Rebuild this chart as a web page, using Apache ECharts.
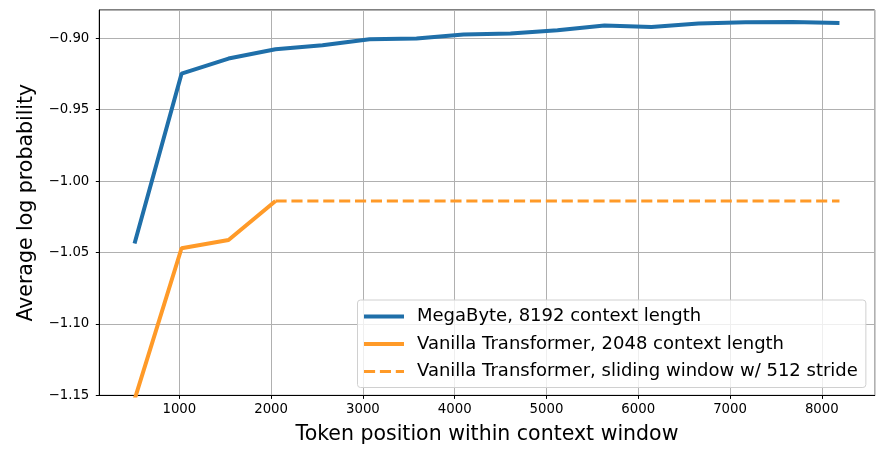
<!DOCTYPE html>
<html>
<head>
<meta charset="utf-8">
<script src="https://cdn.jsdelivr.net/npm/echarts@6/dist/echarts.min.js"></script>
<style>
  html, body { margin: 0; padding: 0; background: #fff; }
  #chart { width: 891px; height: 456px; }
</style>
</head>
<body>
<div id="chart"></div>
<script>
// token positions (x) for each series
var positions = [512, 1024, 1536, 2048, 2560, 3072, 3584, 4096, 4608, 5120, 5632, 6144, 6656, 7168, 7680, 8192];
var megabyte = [-1.0436, -0.9248, -0.9142, -0.9077, -0.9049, -0.9007, -0.9002, -0.8974, -0.8967, -0.8944, -0.8911, -0.8921, -0.8897, -0.8888, -0.8886, -0.8893];

var vanillaPositions = [512, 1024, 1536, 2048];
var vanilla = [-1.153, -1.047, -1.0412, -1.0139];

var slidingPositions = [2048, 2560, 3072, 3584, 4096, 4608, 5120, 5632, 6144, 6656, 7168, 7680, 8192];
var sliding = [-1.0139, -1.0139, -1.0139, -1.0139, -1.0139, -1.0139, -1.0139, -1.0139, -1.0139, -1.0139, -1.0139, -1.0139, -1.0139];

var seriesNames = [
    "MegaByte, 8192 context length",
    "Vanilla Transformer, 2048 context length",
    "Vanilla Transformer, sliding window w/ 512 stride"
];

var blue = "#1f6fa9";
var orange = "#ff9a28";
var font = "DejaVu Sans";

function pairs(xs, ys) {
    var out = [];
    for (var i = 0; i < xs.length; i++) {
        out.push([xs[i], ys[i]]);
    }
    return out;
}

var chart = echarts.init(document.getElementById("chart"), null, {renderer: "canvas"});

var option = {
    animation: false,
    textStyle: {fontFamily: font},
    grid: {
        left: 99.3, right: 16.3, top: 10, bottom: 60.6,
        show: true, borderColor: "#000", borderWidth: 1
    },
    xAxis: {
        type: "value",
        min: 128,
        max: 8576,
        splitNumber: 8,
        name: "Token position within context window",
        nameLocation: "middle",
        nameGap: 29,
        nameTextStyle: {fontSize: 20.5, color: "#000", fontFamily: font},
        axisLine: {show: true, lineStyle: {color: "#000", width: 1}},
        axisTick: {show: true, inside: false, length: 3.5, lineStyle: {color: "#000"}},
        axisLabel: {
            color: "#000", fontSize: 13.3, fontFamily: font, margin: 8,
            showMinLabel: false, showMaxLabel: false,
            formatter: function (v) {
                return String(v);
            }
        },
        splitLine: {show: true, lineStyle: {color: "#b0b0b0", width: 1}}
    },
    yAxis: {
        type: "value",
        min: -1.15,
        max: -0.8802,
        interval: 0.05,
        name: "Average log probability",
        nameLocation: "middle",
        nameRotate: 90,
        nameGap: 57,
        nameTextStyle: {fontSize: 20.5, color: "#000", fontFamily: font},
        axisLine: {show: true, lineStyle: {color: "#000", width: 1}},
        axisTick: {show: true, inside: false, length: 3.5, lineStyle: {color: "#000"}},
        axisLabel: {
            color: "#000", fontSize: 13.3, fontFamily: font, margin: 10,
            showMinLabel: true, showMaxLabel: false,
            formatter: function (v) {
                return v.toFixed(2).replace("-", "\u2212");
            }
        },
        splitLine: {show: true, lineStyle: {color: "#b0b0b0", width: 1}}
    },
    legend: {
        orient: "vertical",
        left: 357.5,
        top: 300,
        itemWidth: 40,
        itemHeight: 4,
        itemGap: 7.5,
        padding: [6.5, 8, 6, 4.5],
        backgroundColor: "rgba(255,255,255,0.8)",
        borderColor: "#d0d0d0",
        borderWidth: 1,
        borderRadius: 3,
        itemStyle: {opacity: 0},
        textStyle: {fontSize: 18, color: "#000", fontFamily: font, lineHeight: 20, padding: [0, 0, 0, 8]},
        data: [
            {name: seriesNames[0], lineStyle: {width: 4}},
            {name: seriesNames[1], lineStyle: {width: 4}},
            {name: seriesNames[2], lineStyle: {width: 3}}
        ]
    },
    series: [
        {
            name: seriesNames[0],
            type: "line",
            symbol: "none",
            data: pairs(positions, megabyte),
            lineStyle: {color: blue, width: 4},
            itemStyle: {color: blue},
            z: 3
        },
        {
            name: seriesNames[1],
            type: "line",
            symbol: "none",
            clip: true,
            data: pairs(vanillaPositions, vanilla),
            lineStyle: {color: orange, width: 4},
            itemStyle: {color: orange},
            z: 3
        },
        {
            name: seriesNames[2],
            type: "line",
            symbol: "none",
            data: pairs(slidingPositions, sliding),
            lineStyle: {color: orange, width: 3, type: [11.1, 4.8]},
            itemStyle: {color: orange},
            z: 3
        }
    ]
};

chart.setOption(option);
</script>
</body>
</html>
